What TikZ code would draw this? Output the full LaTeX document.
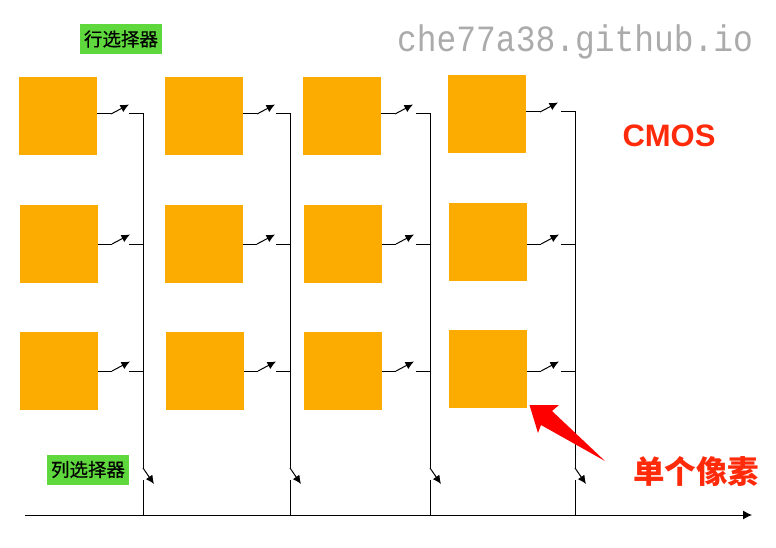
\documentclass[tikz,border=0pt]{standalone}
\usepackage{fontspec}
\setmainfont{Liberation Sans}
\newfontfamily\cjk{Noto Sans CJK SC}
\newfontfamily\cjkm[FakeBold=0.5]{Noto Sans CJK SC}
\newfontfamily\wmfont[FakeStretch=0.89]{Liberation Mono}
\usetikzlibrary{arrows.meta,calc}
\definecolor{pixfill}{HTML}{FCAC00}
\definecolor{lblgreen}{HTML}{5FD83E}
\definecolor{redtxt}{HTML}{FF2A0A}
\definecolor{wmgray}{HTML}{ABABAB}
\tikzset{
  pixelbox/.style={fill=pixfill,draw=none,minimum width=78pt,minimum height=78pt,inner sep=0pt,outer sep=0pt},
  wire/.style={draw=black,line width=1pt},
  sw/.style={draw=black,line width=1pt,-{Latex[length=8.5pt,width=8pt]}},
  selbox/.style={fill=lblgreen,draw=none,minimum width=82pt,minimum height=30pt,inner sep=0pt,font=\cjkm\fontsize{18.5}{18.5}\selectfont},
}
\begin{document}
\begin{tikzpicture}[x=1pt,y=-1pt]
\useasboundingbox (0,0) rectangle (776,548);
% pixels: name / centre x / centre y
\foreach \n/\cx/\cy in {a1/58/116,a2/59/244,a3/59/371,
  b1/204/116,b2/204/244,b3/205/371,
  c1/342/116,c2/343/244,c3/343/371,
  d1/487/114,d2/488/242,d3/488/369}
  \node[pixelbox] (\n) at (\cx,\cy) {};
% row switches: pixel / bus x / y
\foreach \n/\bx/\sy in {a1/143/114,a2/143/244,a3/143/371,
  b1/290/114,b2/290/244,b3/290/371,
  c1/430/114,c2/430/244,c3/430/371,
  d1/575/112,d2/575/244,d3/575/371}{
  \coordinate (\n s) at (\n.east |- 0,\sy);
  \coordinate (\n k) at ($(\n s)+(14,0)$);
  \coordinate (\n t) at ($(\n s)+(32,-9.5)$);
  \coordinate (\n o) at (\bx-14,\sy);
  \coordinate (\n b) at (\bx,\sy);
  \draw[wire] (\n s) -- (\n k);
  \draw[sw] (\n k) -- (\n t);
  \draw[wire] (\n o) -- (\n b);
}
% axis
\coordinate (axL) at (25,515);
\coordinate (axR) at (752,515);
\draw[draw=black,line width=1pt,-{Latex[length=9pt,width=9pt]}] (axL) -- (axR);
% column buses and column switches
\foreach \n/\bx in {a1/143,b1/290,c1/430,d1/575}{
  \coordinate (\n j) at (\bx,515);
  \coordinate (\n u) at (\bx,480);
  \coordinate (\n m) at (\bx,468);
  \coordinate (\n e) at (\bx+11,484);
  \draw[wire,line cap=rect] (\n b) -- (\n m);
  \draw[sw] (\n m) -- (\n e);
  \draw[wire] (\n u) -- (\n j);
}
% labels
\node[selbox] (rowsel) at (121,39) {行选择器};
\node[selbox] (colsel) at (88,469.5) {列选择器};
\node[font=\wmfont\fontsize{37}{37}\selectfont,text=wmgray,inner sep=0pt,anchor=base west] (wm) at (397,52) {che77a38.github.io};
\node[font=\bfseries\fontsize{31}{31}\selectfont,text=redtxt,inner sep=0pt] (cmos) at (669,136) {CMOS};
\node[font=\cjk\bfseries\fontsize{31.5}{31.5}\selectfont,text=redtxt,inner sep=0pt] (single) at (696,472) {单个像素};
% red callout arrow
\fill[red] (529.5,405) -- (559,405) -- (552,411) -- (605,461) -- (541,425) -- (538,433) -- cycle;
\end{tikzpicture}
\end{document}
